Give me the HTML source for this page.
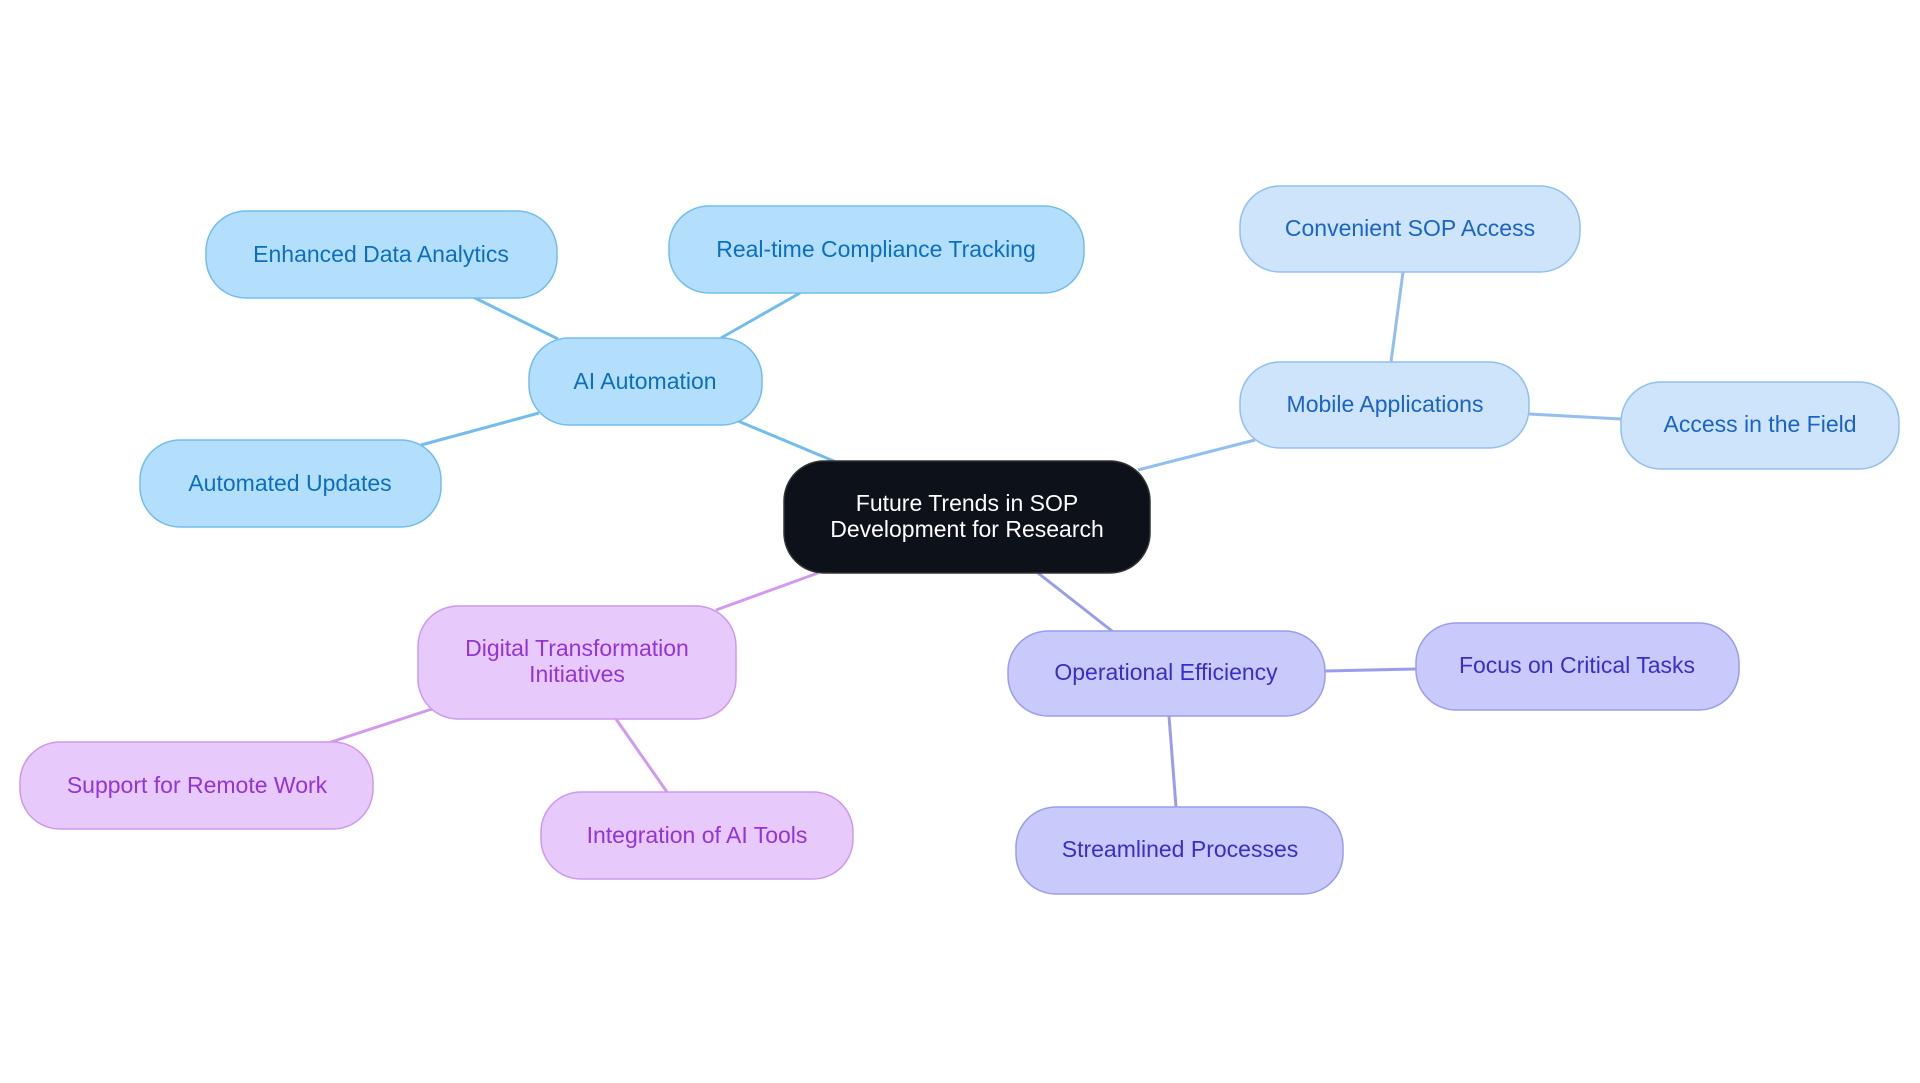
<!DOCTYPE html>
<html><head><meta charset="utf-8"><style>
html,body{margin:0;padding:0;background:#fff;width:1920px;height:1083px;overflow:hidden}
svg text{font-family:"Liberation Sans",sans-serif;font-size:23px;text-anchor:middle;dominant-baseline:central}
</style></head><body>
<svg width="1920" height="1083" viewBox="0 0 1920 1083" xmlns="http://www.w3.org/2000/svg">
<g stroke-width="3" fill="none">
<line x1="836" y1="462" x2="738" y2="421" stroke="#72bdee"/>
<line x1="558" y1="339" x2="471" y2="296" stroke="#72bdee"/>
<line x1="721" y1="338" x2="800" y2="293" stroke="#72bdee"/>
<line x1="539" y1="413" x2="421" y2="445" stroke="#72bdee"/>
<line x1="1138" y1="470" x2="1255" y2="440" stroke="#93bff0"/>
<line x1="1391" y1="362" x2="1403" y2="272" stroke="#93bff0"/>
<line x1="1529" y1="414" x2="1621" y2="419" stroke="#93bff0"/>
<line x1="1038" y1="573" x2="1112" y2="631" stroke="#9a9cf0"/>
<line x1="1325" y1="671" x2="1416" y2="669" stroke="#9a9cf0"/>
<line x1="1169" y1="716" x2="1176" y2="807" stroke="#9a9cf0"/>
<line x1="818" y1="573" x2="716" y2="610" stroke="#d19af0"/>
<line x1="432" y1="709" x2="331" y2="742" stroke="#d19af0"/>
<line x1="616" y1="719" x2="667" y2="792" stroke="#d19af0"/>
</g>
<g stroke-width="1.5">
<rect x="784" y="461" width="366" height="112" rx="40" fill="#0c111a" stroke="#333"/>
<g fill="#b4dffc" stroke="#72bdee">
<rect x="529" y="338" width="233" height="87" rx="40"/>
<rect x="206" y="211" width="351" height="87" rx="40"/>
<rect x="669" y="206" width="415" height="87" rx="40"/>
<rect x="140" y="440" width="301" height="87" rx="40"/>
</g>
<g fill="#cde4fb" stroke="#93bff0">
<rect x="1240" y="362" width="289" height="86" rx="40"/>
<rect x="1240" y="186" width="340" height="86" rx="40"/>
<rect x="1621" y="382" width="278" height="87" rx="40"/>
</g>
<g fill="#c9cafc" stroke="#9a9cf0">
<rect x="1008" y="631" width="317" height="85" rx="40"/>
<rect x="1416" y="623" width="323" height="87" rx="40"/>
<rect x="1016" y="807" width="327" height="87" rx="40"/>
</g>
<g fill="#e8c9fc" stroke="#cc99ee">
<rect x="418" y="606" width="318" height="113" rx="40"/>
<rect x="20" y="742" width="353" height="87" rx="40"/>
<rect x="541" y="792" width="312" height="87" rx="40"/>
</g>
</g>
<text x="967" y="503" fill="#fff">Future Trends in SOP</text>
<text x="967" y="529" fill="#fff">Development for Research</text>
<g fill="#0a6fc2">
<text x="645" y="381">AI Automation</text>
<text x="381" y="254">Enhanced Data Analytics</text>
<text x="876" y="249">Real-time Compliance Tracking</text>
<text x="290" y="483">Automated Updates</text>
</g>
<g fill="#1a64c8">
<text x="1385" y="404">Mobile Applications</text>
<text x="1410" y="228">Convenient SOP Access</text>
<text x="1760" y="424">Access in the Field</text>
</g>
<g fill="#3a2ec8">
<text x="1166" y="672">Operational Efficiency</text>
<text x="1577" y="665">Focus on Critical Tasks</text>
<text x="1180" y="849">Streamlined Processes</text>
</g>
<g fill="#9333d9">
<text x="577" y="648">Digital Transformation</text>
<text x="577" y="674">Initiatives</text>
<text x="197" y="785">Support for Remote Work</text>
<text x="697" y="835">Integration of AI Tools</text>
</g>
</svg>
</body></html>
